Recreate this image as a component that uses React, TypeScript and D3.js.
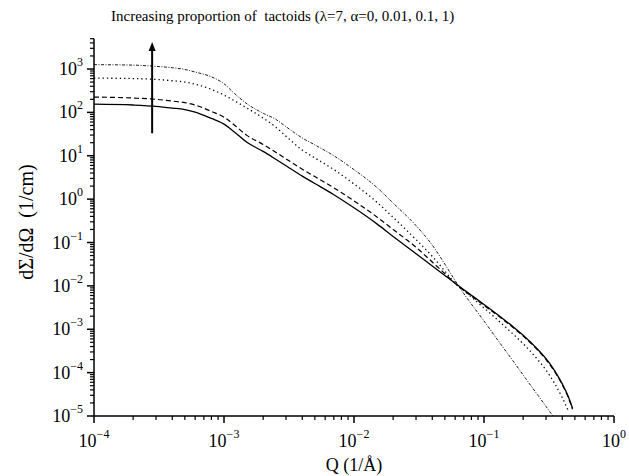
import * as d3 from "d3";

// scattering vector Q (1/Å), shared by every curve
const qValues = [
  1e-4, 2e-4, 3e-4, 4e-4, 5e-4, 6e-4, 8e-4, 1e-3, 1.2e-3, 1.5e-3, 2e-3, 2.5e-3,
  3e-3, 4e-3, 5e-3, 7e-3, 1e-2, 1.5e-2, 2e-2, 3e-2, 4e-2, 5e-2, 6e-2, 7e-2,
  8e-2, 0.1, 0.13, 0.17, 0.21, 0.26, 0.3, 0.35, 0.4, 0.445, 0.48,
];

// dΣ/dΩ (1/cm) for alpha = 0, 0.01, 0.1, 1
const alpha0 = [
  155, 148, 138, 126, 116, 102, 72.4, 53.7, 35.5, 20.4, 12.6, 8.32, 5.89, 3.39,
  2.29, 1.26, 0.631, 0.269, 0.138, 0.055, 0.0288, 0.0174, 0.0115, 0.00818,
  0.0061, 0.00373, 0.00207, 0.0011, 6.4e-4, 3.4e-4, 2.1e-4, 1.1e-4, 5.5e-5,
  2.8e-5, 1.5e-5,
];
const alpha001 = [
  226, 214, 200, 182, 168, 148, 105, 77.6, 51.3, 29.5, 18.2, 12.0, 8.5, 4.9,
  3.31, 1.82, 0.912, 0.389, 0.2, 0.0776, 0.0355, 0.0191, 0.0115, 0.0078,
  0.0058, 0.00356, 0.00198, 0.00105, 6.1e-4, 3.25e-4, 2.0e-4, 1.05e-4, 5.25e-5,
  2.65e-5, 1.43e-5,
];
const alpha01 = [
  617, 603, 575, 537, 501, 447, 339, 251, 186, 126, 74, 45.7, 28.2, 13.5, 8.9,
  4.8, 2.24, 0.85, 0.38, 0.117, 0.048, 0.0219, 0.0115, 0.0078, 0.00555, 0.0031,
  0.00155, 7.4e-4, 4.0e-4, 1.96e-4, 1.14e-4, 5.6e-5, 2.65e-5, 1.33e-5, null,
];
const alpha1 = [
  1260, 1230, 1150, 1070, 977, 851, 661, 457, 275, 158, 95.5, 69.2, 46.8, 25.7,
  17.8, 10, 4.79, 1.86, 0.81, 0.245, 0.087, 0.0316, 0.0132, 0.0066, 0.0038,
  0.00155, 5.2e-4, 1.74e-4, 7.2e-5, 3.0e-5, 1.66e-5, 8.7e-6, null, null, null,
];

const xTickExps = [-4, -3, -2, -1, 0];
const yTickExps = [-5, -4, -3, -2, -1, 0, 1, 2, 3];

const title = "Increasing proportion of  tactoids (\u03bb=7, \u03b1=0, 0.01, 0.1, 1)";
const xTitle = "Q (1/\u00c5)";
const yTitle = "d\u03a3/d\u03a9  (1/cm)";

// arrow: Q position and intensity span
const arrowQ = 2.8e-4;
const arrowFrom = 33;
const arrowTo = 4200;

const series = [
  { values: alpha0, dash: "none", width: 1.3 },
  { values: alpha001, dash: "5 3", width: 1.2 },
  { values: alpha01, dash: "1.3 3", width: 1.3 },
  { values: alpha1, dash: "3 1.5 1 1.5", width: 0.9 },
];

const font = "'Liberation Serif', 'Times New Roman', serif";

export default function App() {
  const width = 629;
  const height = 476;

  const x = d3.scaleLog().domain([1e-4, 1]).range([94, 614]);
  const y = d3.scaleLog().domain([1e-5, 5e3]).range([416, 38.7]);
  const [x0, x1] = x.range();
  const [y0, y1] = y.range();

  const line = d3
    .line<[number, number | null]>()
    .defined((d) => d[1] != null)
    .x((d) => x(d[0]))
    .y((d) => y(d[1] as number))
    .curve(d3.curveMonotoneX);

  const xMinor: number[] = [];
  for (let e = -4; e < 0; e++) for (let k = 2; k < 10; k++) xMinor.push(k * 10 ** e);
  const yMinor: number[] = [];
  for (let e = -5; e < 4; e++)
    for (let k = 2; k < 10; k++) {
      const v = k * 10 ** e;
      if (v <= 5e3) yMinor.push(v);
    }

  const sup = (e: number) => (e < 0 ? "\u2212" + Math.abs(e) : String(e));

  return (
    <svg
      width={width}
      height={height}
      style={{ position: "absolute", left: 0, top: 0, background: "#fff" }}
      fontFamily={font}
    >
      <defs>
        <clipPath id="plot">
          <rect x={x0} y={y1} width={x1 - x0} height={y0 - y1} />
        </clipPath>
      </defs>

      <text x={111} y={21} fontSize={15} style={{ whiteSpace: "pre" }}>
        {title}
      </text>

      <g clipPath="url(#plot)">
        {series.map((s, i) => (
          <path
            key={i}
            d={line(qValues.map((q, j) => [q, s.values[j]]) as [number, number | null][]) || ""}
            fill="none"
            stroke="#000"
            strokeWidth={s.width}
            strokeDasharray={s.dash}
          />
        ))}
      </g>

      {/* arrow */}
      <line
        x1={x(arrowQ)}
        x2={x(arrowQ)}
        y1={y(arrowFrom)}
        y2={y(arrowTo) + 6}
        stroke="#000"
        strokeWidth={2}
      />
      <path d={`M${x(arrowQ)},${y(arrowTo)} l-3.5,9 l7,0 z`} fill="#000" />

      {/* axes */}
      <line x1={x0} x2={x1} y1={y0} y2={y0} stroke="#000" strokeWidth={1.5} />
      <line x1={x0} x2={x0} y1={y0} y2={y1} stroke="#000" strokeWidth={1.5} />

      {xMinor.map((v, i) => (
        <line key={"xm" + i} x1={x(v)} x2={x(v)} y1={y0} y2={y0 + 4} stroke="#000" strokeWidth={1.2} />
      ))}
      {xTickExps.map((e) => (
        <g key={"xt" + e}>
          <line x1={x(10 ** e)} x2={x(10 ** e)} y1={y0} y2={y0 + 7} stroke="#000" strokeWidth={1.5} />
          <text x={x(10 ** e)} y={447} textAnchor="middle" fontSize={18}>
            10
            <tspan dy={-9} fontSize={12}>
              {sup(e)}
            </tspan>
          </text>
        </g>
      ))}

      {yMinor.map((v, i) => (
        <line key={"ym" + i} x1={x0 - 4} x2={x0} y1={y(v)} y2={y(v)} stroke="#000" strokeWidth={1.2} />
      ))}
      {yTickExps.map((e) => (
        <g key={"yt" + e}>
          <line x1={x0 - 7} x2={x0} y1={y(10 ** e)} y2={y(10 ** e)} stroke="#000" strokeWidth={1.5} />
          <text x={83} y={y(10 ** e) + 6} textAnchor="end" fontSize={18}>
            10
            <tspan dy={-9} fontSize={12}>
              {sup(e)}
            </tspan>
          </text>
        </g>
      ))}

      <text x={(x0 + x1) / 2} y={471} textAnchor="middle" fontSize={18}>
        {xTitle}
      </text>
      <text
        transform={`translate(33,222) rotate(-90)`}
        textAnchor="middle"
        fontSize={20}
        style={{ whiteSpace: "pre" }}
      >
        {yTitle}
      </text>
    </svg>
  );
}
